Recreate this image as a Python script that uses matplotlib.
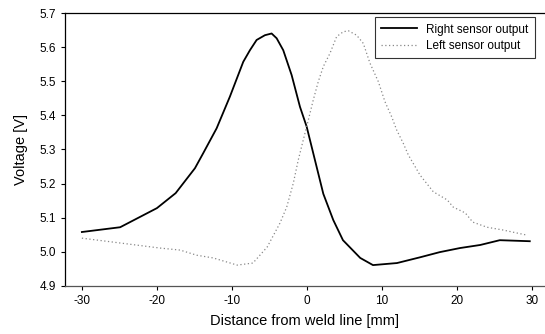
import matplotlib
matplotlib.use("Agg")
import matplotlib.pyplot as plt

# right sensor (solid)
right_x = [-30, -24.9, -20, -17.5, -14.93, -13.83, -12.04, -10.27, -8.49, -7.6,
           -6.71, -5.6, -4.71, -4.04, -3.16, -2.04, -0.93, -0.04, 1.29, 2.18,
           3.51, 4.8, 7.1, 8.8, 12, 15.1, 17.7, 20.4, 23.1, 25.7, 29.7]
right_v = [5.058, 5.072, 5.128, 5.172, 5.245, 5.289, 5.362, 5.455, 5.557, 5.591,
           5.621, 5.635, 5.640, 5.626, 5.591, 5.518, 5.425, 5.367, 5.249, 5.170,
           5.093, 5.034, 4.982, 4.961, 4.967, 4.984, 4.999, 5.011, 5.020, 5.034,
           5.031]

# left sensor (dotted)
left_x = [-30, -19.6, -16.9, -14.7, -12.5, -9.3, -7.2, -5.3, -3.6, -2.7, -1.82,
          -1.16, -0.49, 0.18, 0.84, 1.51, 2.18, 3.07, 3.96, 4.84, 5.51, 6.62,
          7.51, 8.4, 9.51, 10.4, 11.29, 11.96, 12.84, 13.51, 15.07, 16.84, 18.7,
          19.5, 21.1, 22.1, 24, 26.1, 28, 29.3]
left_v = [5.040, 5.011, 5.005, 4.990, 4.982, 4.961, 4.967, 5.014, 5.084, 5.131,
          5.201, 5.269, 5.328, 5.386, 5.445, 5.499, 5.543, 5.582, 5.631, 5.645,
          5.648, 5.635, 5.611, 5.553, 5.499, 5.440, 5.396, 5.357, 5.318, 5.284,
          5.225, 5.176, 5.152, 5.131, 5.114, 5.087, 5.072, 5.064, 5.055, 5.049]

xticks = [-30, -20, -10, 0, 10, 20, 30]
yticks = [4.9, 5.0, 5.1, 5.2, 5.3, 5.4, 5.5, 5.6, 5.7]

plt.rcParams['font.family'] = ['Liberation Sans', 'DejaVu Sans']

fig = plt.figure(figsize=(5.45, 3.34), dpi=100)
ax = fig.add_axes([0.119, 0.144, 0.881, 0.817])

ax.plot(right_x, right_v, color='black', lw=1.3, label='Right sensor output')
ax.plot(left_x, left_v, color='#888888', lw=0.9, ls=(0, (1, 2)), label='Left sensor output')

ax.set_xlim(-32.27, 31.73)
ax.set_ylim(4.9, 5.7)
ax.set_xticks(xticks)
ax.set_xticklabels([str(t) for t in xticks])
ax.set_yticks(yticks)
ax.set_yticklabels(['%.1f' % t for t in yticks])
ax.tick_params(direction='out', length=3, width=0.8, labelsize=8.5, color='black')

ax.spines['right'].set_visible(False)
for s in ['left', 'top', 'bottom']:
    ax.spines[s].set_linewidth(0.9)
ax.spines['bottom'].set_color('#555555')

ax.set_xlabel('Distance from weld line [mm]', fontsize=10.5, labelpad=5)
ax.set_ylabel('Voltage [V]', fontsize=10.5, labelpad=8)

leg = ax.legend(loc='upper right', bbox_to_anchor=(0.979, 0.985), fontsize=8.5,
                frameon=True, fancybox=False, edgecolor='black', borderaxespad=0,
                handlelength=3.0, labelspacing=0.35, borderpad=0.55)
leg.get_frame().set_linewidth(0.8)

fig.savefig('out.png', dpi=100)
